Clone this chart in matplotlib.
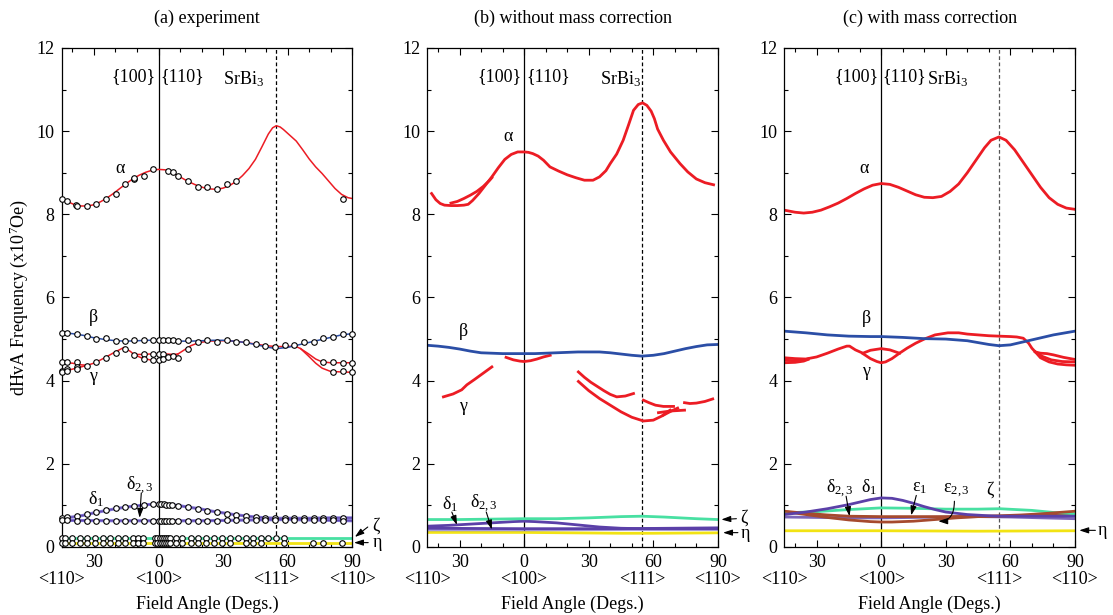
import matplotlib
matplotlib.use('Agg')
import matplotlib.pyplot as plt
from matplotlib.ticker import MultipleLocator, FixedLocator, FuncFormatter

plt.rcParams['font.family'] = ['Liberation Serif', 'DejaVu Serif']
plt.rcParams['mathtext.fontset'] = 'custom'
plt.rcParams['mathtext.rm'] = 'Liberation Serif'
plt.rcParams['mathtext.it'] = 'Liberation Serif:italic'
plt.rcParams['mathtext.default'] = 'regular'

RED = '#ec1c24'
BLUE = '#2b4ea6'
PURPLE = '#5b40a8'
LAVENDER = '#7f72d2'
GREEN = '#48e0a2'
YELLOW = '#f2e313'
BROWN = '#a64a2e'

# ---------------- (a) experiment: fitted curves ----------------
a_alpha_x = [-45, -42, -39, -36, -33, -30, -27, -24, -21, -18, -15, -12, -9, -6, -3, 0, 3, 6, 9, 12, 15, 18,
             21, 24, 27, 30, 33, 36, 39, 42, 45, 48, 51, 53, 54.7, 56.5, 58, 61, 64, 67, 70, 73, 76, 79, 82,
             85, 88, 90]
a_alpha_y = [8.38, 8.30, 8.23, 8.20, 8.20, 8.23, 8.30, 8.39, 8.50, 8.62, 8.74, 8.85, 8.94, 9.01, 9.06, 9.08,
             9.07, 9.02, 8.93, 8.84, 8.76, 8.69, 8.64, 8.61, 8.60, 8.63, 8.69, 8.79, 8.93, 9.10, 9.32, 9.62,
             9.93, 10.08, 10.13, 10.10, 10.04, 9.90, 9.76, 9.55, 9.33, 9.14, 8.98, 8.80, 8.62, 8.48, 8.40, 8.38]

a_beta_x = [-45, -40, -35, -30, -25, -20, -15, -10, -5, 0, 5, 10, 15, 20, 25, 30, 35, 40, 45, 50, 54.7, 60,
            65, 70, 75, 80, 85, 90]
a_beta_y = [5.15, 5.13, 5.09, 5.03, 4.99, 4.96, 4.95, 4.96, 4.97, 4.97, 4.96, 4.95, 4.95, 4.96, 4.97, 4.97,
            4.95, 4.92, 4.87, 4.81, 4.77, 4.80, 4.86, 4.92, 4.98, 5.04, 5.10, 5.13]

a_gamma1_x = [-45, -40, -36, -33, -29.5, -25, -20.5, -16, -13, -11.5, -8, -4, 0, 4, 7, 9, 12, 15, 18.5, 23,
              30, 35, 40, 45, 50, 54.7, 58, 63.5, 66, 69.5, 73, 76, 80, 85, 90]
a_gamma1_y = [4.43, 4.42, 4.38, 4.37, 4.43, 4.55, 4.68, 4.80, 4.70, 4.63, 4.63, 4.64, 4.64, 4.64, 4.63, 4.64,
              4.74, 4.84, 4.91, 4.95, 4.96, 4.95, 4.92, 4.88, 4.84, 4.82, 4.82, 4.83, 4.77, 4.65, 4.52, 4.45,
              4.43, 4.43, 4.43]
a_gamma2_x = [-45, -42, -39, -36, -33]
a_gamma2_y = [4.22, 4.25, 4.29, 4.33, 4.37]
a_gamma3_x = [-11.5, -8, -4, 0, 4, 7, 9]
a_gamma3_y = [4.63, 4.55, 4.50, 4.49, 4.52, 4.58, 4.64]
a_gamma4_x = [66, 69.5, 73, 76, 80, 85, 90]
a_gamma4_y = [4.77, 4.60, 4.42, 4.30, 4.22, 4.21, 4.20]

a_delta1_x = [-45, -40, -35, -30, -25, -20, -15, -10, -5, 0, 5, 10, 15, 20, 25, 30, 35, 40, 45, 50, 55,
              60, 70, 80, 90]
a_delta1_y = [0.70, 0.72, 0.76, 0.82, 0.87, 0.92, 0.96, 0.99, 1.02, 1.03, 1.02, 0.99, 0.95, 0.91, 0.86,
              0.82, 0.78, 0.75, 0.72, 0.70, 0.69, 0.69, 0.69, 0.70, 0.70]
a_delta23_x = [-45, -20, 0, 20, 45, 60, 90]
a_delta23_y = [0.64, 0.63, 0.63, 0.63, 0.65, 0.66, 0.63]
a_zeta_x = [-45, 90]
a_zeta_y = [0.22, 0.22]
a_eta_x = [-45, 90]
a_eta_y = [0.10, 0.10]

# ---------------- (a) experiment: measured points ----------------
a_alpha_px = [-45, -42.7, -38.3, -37.8, -33.4, -28.9, -24.4, -19.9, -15.5, -11.5, -11.2, -6.9, -2.5, 4.5,
              6.8, 9.1, 13.5, 18.2, 22.6, 27.1, 31.6, 36.1, 85.6]
a_alpha_py = [8.38, 8.31, 8.23, 8.19, 8.20, 8.25, 8.38, 8.49, 8.74, 8.84, 8.88, 8.92, 9.08, 9.05, 9.01,
              8.92, 8.81, 8.65, 8.65, 8.60, 8.72, 8.80, 8.38]

a_beta_px = [-45, -42.7, -38, -33.4, -28.9, -24.4, -19.9, -15.5, -11.3, -6.9, -2.5, 0, 2.2, 4.5, 6.8, 9.1,
             13.5, 18.2, 22.6, 27.1, 31.6, 36.1, 40.6, 45.1, 49.6, 54.1, 58.6, 63.1, 67.6, 72, 76.5, 81,
             85.6, 90]
a_beta_py = [5.15, 5.14, 5.12, 5.08, 5.00, 5.02, 4.95, 4.95, 4.97, 4.97, 4.97, 4.98, 4.98, 4.98, 4.98,
             4.95, 4.97, 4.94, 4.97, 4.94, 4.98, 4.94, 4.93, 4.87, 4.84, 4.80, 4.85, 4.85, 4.92, 4.94,
             5.03, 5.05, 5.13, 5.13]

a_gamma_px = [-45, -45, -45, -42.7, -42.7, -42.7, -38, -38, -38, -33.4, -28.9, -24.4, -19.9, -15.5,
              -11.3, -6.9, -6.9, -2.5, -2.5, 0, 0, 2.2, 2.2, 4.5, 6.8, 9.1, 13.5, 76.5, 81, 85.6, 90,
              81, 85.6, 90]
a_gamma_py = [4.45, 4.23, 4.20, 4.45, 4.28, 4.24, 4.45, 4.34, 4.27, 4.36, 4.44, 4.55, 4.66, 4.77, 4.62,
              4.64, 4.53, 4.64, 4.50, 4.64, 4.50, 4.64, 4.52, 4.57, 4.60, 4.55, 4.76, 4.46, 4.44, 4.43,
              4.43, 4.21, 4.23, 4.20]

a_delta_px = [-45, -42.7, -38, -33.4, -28.9, -24.4, -19.9, -15.5, -11.3, -6.9, -2.5, 0, 1.2, 2.4, 3.6, 4.8,
              6.2, 9.1, 13.5, 18.2, 22.6, 27.1, 31.6, 36.1, 40.6, 45.1, 49.6, 54.1, 58.6, 63.1, 67.6, 72,
              76.5, 81, 85.6]
a_delta1_py = [0.70, 0.71, 0.74, 0.79, 0.84, 0.88, 0.93, 0.97, 0.99, 1.01, 1.03, 1.03, 1.03, 1.03, 1.02,
               1.02, 1.01, 0.99, 0.95, 0.91, 0.87, 0.83, 0.79, 0.76, 0.74, 0.72, 0.70, 0.69, 0.69, 0.69,
               0.69, 0.69, 0.70, 0.70, 0.70]
a_delta23_py = [0.64, 0.64, 0.63, 0.63, 0.63, 0.63, 0.63, 0.63, 0.63, 0.63, 0.63, 0.63, 0.63, 0.63, 0.63,
                0.63, 0.63, 0.63, 0.63, 0.63, 0.63, 0.63, 0.64, 0.64, 0.65, 0.65, 0.65, 0.66, 0.66, 0.66,
                0.65, 0.65, 0.64, 0.64, 0.63]

a_low_px = [-45, -43.5, -40, -36.5, -33, -29.5, -26, -22.5, -19, -15.5, -12, -9.5, -7, -1.5, -0.5, 0.5,
            1.5, 2.5, 3.5, 4.5, 5.5, 8, 11, 15, 18.5, 22, 26, 29.5, 33, 37, 40.5, 44, 47.5, 51, 54.5, 58.5]
a_zeta_py = [0.21] * 36
a_eta_px = [-45, -43.5, -40, -36.5, -33, -29.5, -26, -22.5, -19, -15.5, -12, -9.5, -7, -1.5, -0.5, 0.5,
            1.5, 2.5, 3.5, 4.5, 5.5, 8, 11, 15, 18.5, 22, 26, 29.5, 33, 40.5, 44, 47.5, 58.5, 71.7, 76.5,
            85.3]
a_eta_py = [0.10] * 36

# ---------------- (b) without mass correction ----------------
b_alpha_x = [-43, -41, -39, -37, -34, -31, -28, -26, -24, -21, -18, -15, -12, -9, -6, -3, 0, 2, 4, 6.5, 9,
             12, 16, 20, 24, 28, 32, 35, 38, 40, 43, 46, 48.5, 50.8, 53, 55, 57, 59, 60.5, 62, 64.7, 68,
             72.4, 76, 80, 84, 88]
b_alpha_y = [8.50, 8.35, 8.26, 8.22, 8.21, 8.21, 8.22, 8.24, 8.33, 8.50, 8.70, 8.90, 9.12, 9.32, 9.44,
             9.50, 9.50, 9.49, 9.46, 9.40, 9.30, 9.14, 9.04, 8.95, 8.88, 8.82, 8.82, 8.90, 9.05, 9.22, 9.45,
             9.78, 10.15, 10.50, 10.64, 10.68, 10.62, 10.48, 10.30, 10.05, 9.78, 9.50, 9.22, 9.02, 8.85,
             8.76, 8.71]
b_alpha2_x = [-34, -31, -28, -25, -22, -19, -16, -15]
b_alpha2_y = [8.27, 8.31, 8.38, 8.46, 8.55, 8.67, 8.82, 8.88]

b_beta_x = [-45, -40, -35, -30, -25, -20, -15, -10, -5, 0, 5, 10, 15, 20, 25, 30, 35, 40, 45, 50, 54.7, 60,
            65, 70, 75, 80, 85, 90]
b_beta_y = [4.85, 4.83, 4.80, 4.76, 4.71, 4.67, 4.66, 4.65, 4.65, 4.65, 4.65, 4.66, 4.67, 4.68, 4.69, 4.69,
            4.69, 4.67, 4.64, 4.61, 4.59, 4.61, 4.65, 4.71, 4.77, 4.82, 4.86, 4.87]

b_gamma_segments = [
    ([-37.5, -33, -29, -26.6, -23, -19, -15], [3.61, 3.68, 3.78, 3.90, 4.03, 4.18, 4.33]),
    ([-8.4, -5, -2, 0, 3, 6, 9, 12.1], [4.56, 4.50, 4.47, 4.46, 4.48, 4.52, 4.57, 4.61]),
    ([25.2, 28, 31, 34, 37, 40, 43, 47, 50.8], [4.21, 4.08, 3.96, 3.86, 3.76, 3.67, 3.61, 3.63, 3.69]),
    ([25.2, 30, 35, 40, 45, 50, 55.4, 60, 64, 67.8], [3.98, 3.76, 3.57, 3.41, 3.25, 3.12, 3.03, 3.05, 3.15,
                                                     3.29]),
    ([55.4, 58, 61, 64.7, 69.4], [3.53, 3.47, 3.41, 3.38, 3.38]),
    ([62.4, 68, 74.5], [3.23, 3.27, 3.29]),
    ([64.7, 68, 71.3], [3.17, 3.26, 3.34]),
    ([74.5, 77, 80, 84, 87.6], [3.47, 3.45, 3.46, 3.50, 3.56]),
]

b_zeta_x = [-45, -30, -15, 0, 15, 30, 45, 54.7, 65, 80, 90]
b_zeta_y = [0.66, 0.66, 0.67, 0.68, 0.68, 0.70, 0.73, 0.74, 0.72, 0.68, 0.66]
b_delta1_x = [-45, -35, -25, -15, -5, 0, 5, 15, 25, 35, 45, 55, 70, 90]
b_delta1_y = [0.50, 0.52, 0.55, 0.58, 0.61, 0.62, 0.61, 0.58, 0.53, 0.48, 0.45, 0.44, 0.44, 0.44]
b_delta2_x = [-45, 0, 45, 90]
b_delta2_y = [0.45, 0.44, 0.44, 0.46]
b_delta3_x = [-45, 0, 45, 90]
b_delta3_y = [0.41, 0.41, 0.42, 0.42]
b_eta_x = [-45, 0, 45, 60, 90]
b_eta_y = [0.35, 0.35, 0.33, 0.33, 0.34]

# ---------------- (c) with mass correction ----------------
c_alpha_x = [-45, -40, -36, -32, -28, -24, -20, -16, -12, -8, -4, 0, 4, 8, 12, 16, 20, 24, 28, 32, 36, 40,
             44, 48, 51, 54.7, 58, 62, 66, 70, 74, 78, 82, 86, 90]
c_alpha_y = [8.10, 8.05, 8.03, 8.05, 8.10, 8.18, 8.27, 8.38, 8.50, 8.61, 8.70, 8.74, 8.72, 8.65, 8.56,
             8.47, 8.41, 8.40, 8.43, 8.55, 8.73, 9.00, 9.30, 9.60, 9.78, 9.86, 9.78, 9.55, 9.25, 8.95,
             8.65, 8.40, 8.24, 8.15, 8.12]

c_beta_x = [-45, -35, -25, -15, -5, 0, 10, 20, 30, 40, 50, 54.7, 60, 70, 80, 90]
c_beta_y = [5.19, 5.15, 5.10, 5.07, 5.06, 5.06, 5.04, 5.01, 5.00, 4.96, 4.87, 4.84, 4.86, 4.98, 5.10, 5.19]

c_gamma_segments = [
    ([-45, -40, -35, -30, -25, -20, -16, -14.7, -12, -8.5, -5, 0, 4, 8.5],
     [4.55, 4.53, 4.52, 4.57, 4.66, 4.76, 4.83, 4.83, 4.74, 4.66, 4.73, 4.77, 4.74, 4.66]),
    ([-8.5, -5, -2, 0, 2, 5, 8.5, 12, 16, 20, 25, 31, 36, 40, 45, 50, 54.7, 60, 63, 66, 68.5, 70, 71.6,
      74, 77, 80, 84.7, 90],
     [4.65, 4.53, 4.46, 4.43, 4.45, 4.53, 4.66, 4.78, 4.90, 5.00, 5.10, 5.15, 5.15, 5.12, 5.10, 5.08,
      5.07, 5.06, 5.05, 5.02, 4.90, 4.78, 4.69, 4.66, 4.65, 4.62, 4.56, 4.51]),
    ([-45, -40, -36, -34], [4.49, 4.48, 4.50, 4.52]),
    ([-45, -40, -36, -34], [4.43, 4.44, 4.47, 4.51]),
    ([71.6, 75, 79, 84, 90], [4.69, 4.58, 4.50, 4.46, 4.45]),
    ([71.6, 74, 78, 82, 86, 90], [4.69, 4.55, 4.45, 4.40, 4.38, 4.37]),
]

c_delta1_x = [-45, -35, -25, -15, -10, -5, 0, 5, 10, 15, 20, 25, 30, 40, 50, 54.7, 65, 75, 90]
c_delta1_y = [0.78, 0.84, 0.92, 1.02, 1.08, 1.14, 1.18, 1.17, 1.12, 1.05, 0.97, 0.90, 0.84, 0.78, 0.75,
              0.74, 0.74, 0.74, 0.74]
c_zeta_x = [-45, -30, -15, 0, 15, 30, 45, 55, 70, 80, 90]
c_zeta_y = [0.82, 0.85, 0.90, 0.94, 0.93, 0.91, 0.91, 0.92, 0.88, 0.83, 0.80]
c_eps1_x = [-45, -35, -25, -15, 0, 15, 30, 45, 55, 65, 75, 90]
c_eps1_y = [0.86, 0.81, 0.77, 0.74, 0.73, 0.73, 0.73, 0.74, 0.75, 0.77, 0.80, 0.86]
c_eps23_x = [-45, -35, -25, -15, -5, 0, 5, 15, 25, 35, 45, 55, 70, 90]
c_eps23_y = [0.85, 0.78, 0.71, 0.65, 0.61, 0.60, 0.60, 0.62, 0.66, 0.70, 0.73, 0.74, 0.76, 0.78]
c_delta23_x = [-45, -30, -15, 0, 15, 30, 45, 60, 75, 90]
c_delta23_y = [0.72, 0.71, 0.70, 0.70, 0.71, 0.72, 0.73, 0.72, 0.70, 0.68]
c_eta_x = [-45, 0, 45, 90]
c_eta_y = [0.39, 0.39, 0.38, 0.39]

dir_ticks = [-45, 0, 54.7, 90]
dir_labels = ['<110>', '<100>', '<111>', '<110>']

FS = 13
ARROW = dict(arrowstyle='-|>,head_length=0.55,head_width=0.18', color='black', lw=0.8,
             shrinkA=0, shrinkB=0)


def preparar_ejes(ax, titulo, pos100, pos110, pos_sr, dashed_color='black'):
    ax.set_xlim(-45, 90)
    ax.set_ylim(0, 12)
    ax.xaxis.set_major_locator(FixedLocator([-30, 0, 30, 60, 90]))
    ax.xaxis.set_minor_locator(FixedLocator([-40, -20, -10, 10, 20, 40, 50, 70, 80]))
    ax.xaxis.set_major_formatter(FuncFormatter(lambda v, p: f'{abs(int(round(v)))}'))
    ax.yaxis.set_major_locator(MultipleLocator(2))
    ax.yaxis.set_minor_locator(MultipleLocator(1))
    ax.tick_params(which='both', direction='in', top=True, right=True, labelsize=FS, width=0.8)
    ax.tick_params(which='major', length=5, pad=5)
    ax.tick_params(which='minor', length=3)
    for s in ax.spines.values():
        s.set_linewidth(0.9)
    ax.axvline(0, color='black', lw=0.9, zorder=1)
    ax.axvline(54.7, color=dashed_color, lw=0.9, ls=(0, (3, 2)), zorder=1)
    trans = ax.get_xaxis_transform()
    for xt, lab in zip(dir_ticks, dir_labels):
        ax.text(xt, -0.066, lab, transform=trans, ha='center', va='center', fontsize=FS, clip_on=False)
    ax.text(0.5, -0.114, 'Field Angle (Degs.)', transform=ax.transAxes, ha='center', va='center',
            fontsize=FS)
    ax.text(0.5, 1.06, titulo, transform=ax.transAxes, ha='center', va='center', fontsize=FS)
    ax.text(pos100, 11.3, '{100}', ha='center', va='center', fontsize=FS)
    ax.text(pos110, 11.3, '{110}', ha='center', va='center', fontsize=FS)
    ax.text(pos_sr, 11.25, 'SrBi$_3$', ha='center', va='center', fontsize=FS)


def etiqueta(ax, x, y, texto):
    ax.text(x, y, texto, ha='center', va='center', fontsize=FS, clip_on=False)


def flecha(ax, desde, hasta, **extra):
    props = dict(ARROW)
    props.update(extra)
    ax.annotate('', xy=hasta, xytext=desde, arrowprops=props, annotation_clip=False)


fig = plt.figure(figsize=(11.13, 6.15), dpi=100)
ax_a = fig.add_axes([0.0554, 0.1106, 0.2611, 0.8114])
ax_b = fig.add_axes([0.3839, 0.1106, 0.2611, 0.8114])
ax_c = fig.add_axes([0.7047, 0.1106, 0.2611, 0.8114])

# ---- (a) experiment ----
ax = ax_a
preparar_ejes(ax, '(a) experiment', -11.7, 11.2, 39.3)
ax.set_ylabel('dHvA Frequency (x10$^7$Oe)', fontsize=FS)
ax.yaxis.set_label_coords(-0.11, 0.5)
lw_a = 1.1
ax.plot(a_zeta_x, a_zeta_y, color=GREEN, lw=2.0)
ax.plot(a_eta_x, a_eta_y, color=YELLOW, lw=2.0)
ax.plot(a_delta1_x, a_delta1_y, color=LAVENDER, lw=2.2)
ax.plot(a_delta23_x, a_delta23_y, color=LAVENDER, lw=2.2)
ax.plot(a_delta1_x, a_delta1_y, color=PURPLE, lw=0.6)
ax.plot(a_delta23_x, a_delta23_y, color=PURPLE, lw=0.6)
ax.plot(a_alpha_x, a_alpha_y, color=RED, lw=lw_a)
for gx, gy in [(a_gamma1_x, a_gamma1_y), (a_gamma2_x, a_gamma2_y), (a_gamma3_x, a_gamma3_y),
               (a_gamma4_x, a_gamma4_y)]:
    ax.plot(gx, gy, color=RED, lw=lw_a)
ax.plot(a_beta_x, a_beta_y, color=BLUE, lw=lw_a)
pts = dict(ls='none', marker='o', ms=4, mfc='white', mec='black', mew=0.8, zorder=5, clip_on=False)
ax.plot(a_alpha_px, a_alpha_py, **pts)
ax.plot(a_beta_px, a_beta_py, **pts)
ax.plot(a_gamma_px, a_gamma_py, **pts)
ax.plot(a_delta_px, a_delta1_py, **pts)
ax.plot(a_delta_px, a_delta23_py, **pts)
ax.plot(a_low_px, a_zeta_py, **pts)
ax.plot(a_eta_px, a_eta_py, **pts)
etiqueta(ax, -18, 9.1, 'α')
etiqueta(ax, -30.3, 5.53, 'β')
etiqueta(ax, -30.6, 4.09, 'γ')
etiqueta(ax, -28.8, 1.16, 'δ$_1$')
etiqueta(ax, -8.6, 1.48, 'δ$_{2,3}$')
flecha(ax, (-8.0, 1.30), (-8.8, 0.70))
etiqueta(ax, 101, 0.50, 'ζ')
flecha(ax, (97.2, 0.48), (91.2, 0.24))
etiqueta(ax, 101.5, 0.10, 'η')
flecha(ax, (97.4, 0.105), (90.8, 0.105))

# ---- (b) without mass correction ----
ax = ax_b
preparar_ejes(ax, '(b) without mass correction', -11.5, 11.3, 44.6)
lw_b = 2.0
ax.plot(b_eta_x, b_eta_y, color=YELLOW, lw=lw_b)
ax.plot(b_delta3_x, b_delta3_y, color=LAVENDER, lw=lw_b, alpha=0.7)
ax.plot(b_delta2_x, b_delta2_y, color=PURPLE, lw=lw_b)
ax.plot(b_delta1_x, b_delta1_y, color=PURPLE, lw=lw_b)
ax.plot(b_zeta_x, b_zeta_y, color=GREEN, lw=lw_b)
ax.plot(b_alpha_x, b_alpha_y, color=RED, lw=lw_b)
ax.plot(b_alpha2_x, b_alpha2_y, color=RED, lw=lw_b)
for gx, gy in b_gamma_segments:
    ax.plot(gx, gy, color=RED, lw=lw_b)
ax.plot(b_beta_x, b_beta_y, color=BLUE, lw=lw_b)
etiqueta(ax, -7.3, 9.86, 'α')
etiqueta(ax, -28.2, 5.17, 'β')
etiqueta(ax, -28.2, 3.37, 'γ')
etiqueta(ax, -34.4, 1.04, 'δ$_1$')
flecha(ax, (-33.6, 0.84), (-31.2, 0.53))
etiqueta(ax, -18.9, 1.04, 'δ$_{2,3}$')
flecha(ax, (-17.6, 0.84), (-15.0, 0.42))
etiqueta(ax, 102, 0.70, 'ζ')
flecha(ax, (98.6, 0.68), (91.6, 0.66))
etiqueta(ax, 102.8, 0.33, 'η')
flecha(ax, (99.3, 0.345), (92.4, 0.345))

# ---- (c) with mass correction ----
ax = ax_c
preparar_ejes(ax, '(c) with mass correction', -11.6, 10.8, 30.9, dashed_color='#555555')
ax.plot(c_eta_x, c_eta_y, color=YELLOW, lw=lw_b)
ax.plot(c_delta23_x, c_delta23_y, color=PURPLE, lw=lw_b, alpha=0.8)
ax.plot(c_eps23_x, c_eps23_y, color=BROWN, lw=lw_b)
ax.plot(c_zeta_x, c_zeta_y, color=GREEN, lw=lw_b)
ax.plot(c_eps1_x, c_eps1_y, color=BROWN, lw=lw_b)
ax.plot(c_delta1_x, c_delta1_y, color=PURPLE, lw=lw_b)
ax.plot(c_alpha_x, c_alpha_y, color=RED, lw=lw_b)
for gx, gy in c_gamma_segments:
    ax.plot(gx, gy, color=RED, lw=lw_b)
ax.plot(c_beta_x, c_beta_y, color=BLUE, lw=lw_b)
etiqueta(ax, -7.8, 9.10, 'α')
etiqueta(ax, -7, 5.49, 'β')
etiqueta(ax, -7, 4.21, 'γ')
etiqueta(ax, -19.4, 1.40, 'δ$_{2,3}$')
flecha(ax, (-16.3, 1.22), (-14.7, 0.74))
etiqueta(ax, -5.4, 1.44, 'δ$_1$')
etiqueta(ax, 17.8, 1.44, 'ε$_1$')
flecha(ax, (16.3, 1.24), (13.9, 0.76))
etiqueta(ax, 34.8, 1.34, 'ε$_{2,3}$')
flecha(ax, (34.0, 1.10), (26.5, 0.62), connectionstyle='angle3,angleA=90,angleB=0')
etiqueta(ax, 50.3, 1.36, 'ζ')
etiqueta(ax, 102.9, 0.40, 'η')
flecha(ax, (99.5, 0.40), (92.0, 0.40))

fig.savefig('out.png', dpi=100)
